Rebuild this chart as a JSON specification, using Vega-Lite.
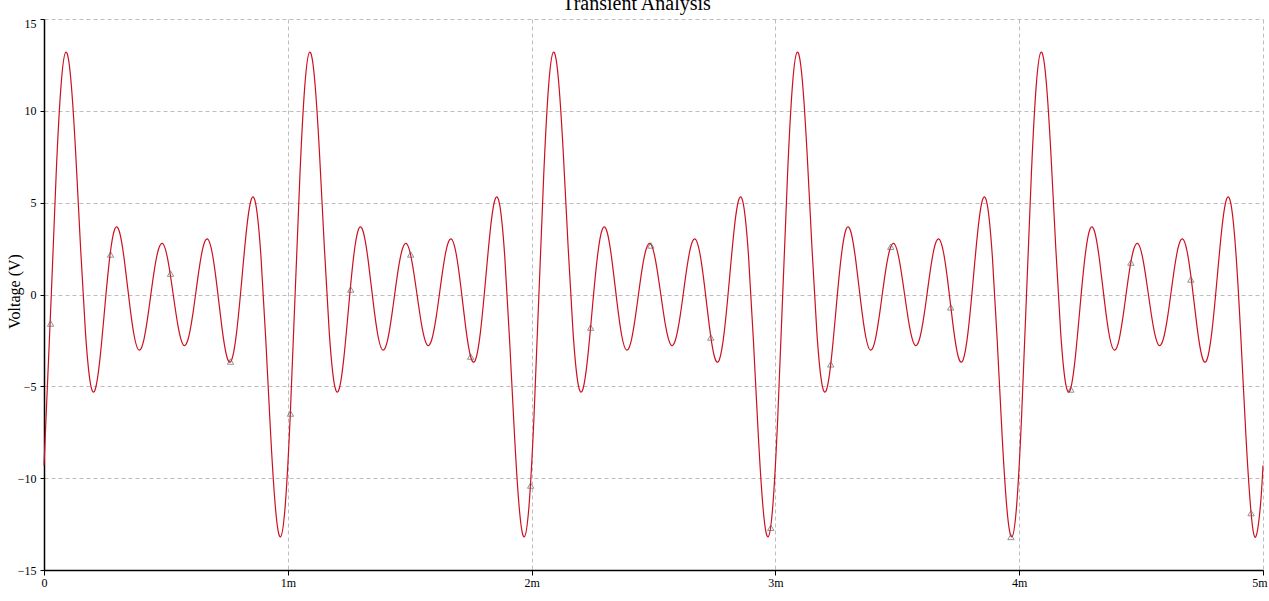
{
"$schema": "https://vega.github.io/schema/vega-lite/v6.json",
"width": 1219, "height": 551,
"autosize": {"type": "none"},
"padding": {"left": 44, "top": 19, "right": 6, "bottom": 31},
"background": "white",
"title": {"text": "Transient Analysis", "font": "Liberation Serif", "fontSize": 20, "fontWeight": "normal", "color": "black", "anchor": "middle", "baseline": "alphabetic", "offset": 9, "dy": 22, "frame": "bounds"},
"config": {
  "view": {"stroke": null},
  "axis": {"domainColor": "black", "domainWidth": 1.5, "tickColor": "black", "tickWidth": 1, "labelFont": "Liberation Serif", "labelFontSize": 12, "labelColor": "black", "titleFont": "Liberation Serif", "titleFontWeight": "normal", "titleColor": "black", "gridColor": "#bdbdbd", "gridDash": [4, 3], "gridWidth": 1}
},
"datasets": {
  "wave": [
{"t":0,"v":-9.31},
{"t":0.03,"v":0},{"t":0.05,"v":6.59},{"t":0.07,"v":11.4},{"t":0.09,"v":13.2},{"t":0.11,"v":11.72},{"t":0.13,"v":7.69},{"t":0.15,"v":2.55},{"t":0.17,"v":-2.05},{"t":0.19,"v":-4.81},{"t":0.21,"v":-5.17},{"t":0.23,"v":-3.44},{"t":0.25,"v":-0.61},{"t":0.27,"v":2.06},{"t":0.29,"v":3.55},{"t":0.31,"v":3.39},{"t":0.33,"v":1.82},{"t":0.35,"v":-0.39},{"t":0.37,"v":-2.26},{"t":0.39,"v":-3.03},{"t":0.41,"v":-2.44},{"t":0.43,"v":-0.81},{"t":0.45,"v":1.11},{"t":0.47,"v":2.48},{"t":0.49,"v":2.72},{"t":0.51,"v":1.74},{"t":0.53,"v":0},{"t":0.55,"v":-1.74},{"t":0.57,"v":-2.72},{"t":0.59,"v":-2.48},{"t":0.61,"v":-1.11},{"t":0.63,"v":0.81},{"t":0.65,"v":2.44},{"t":0.67,"v":3.03},{"t":0.69,"v":2.26},{"t":0.71,"v":0.39},{"t":0.73,"v":-1.82},{"t":0.75,"v":-3.39},{"t":0.77,"v":-3.55},{"t":0.79,"v":-2.06},{"t":0.81,"v":0.61},{"t":0.83,"v":3.44},{"t":0.85,"v":5.17},{"t":0.87,"v":4.81},{"t":0.89,"v":2.05},{"t":0.91,"v":-2.55},{"t":0.93,"v":-7.69},{"t":0.95,"v":-11.72},{"t":0.97,"v":-13.2},{"t":0.99,"v":-11.4},{"t":1.01,"v":-6.59},
{"t":1.03,"v":0},{"t":1.05,"v":6.59},{"t":1.07,"v":11.4},{"t":1.09,"v":13.2},{"t":1.11,"v":11.72},{"t":1.13,"v":7.69},{"t":1.15,"v":2.55},{"t":1.17,"v":-2.05},{"t":1.19,"v":-4.81},{"t":1.21,"v":-5.17},{"t":1.23,"v":-3.44},{"t":1.25,"v":-0.61},{"t":1.27,"v":2.06},{"t":1.29,"v":3.55},{"t":1.31,"v":3.39},{"t":1.33,"v":1.82},{"t":1.35,"v":-0.39},{"t":1.37,"v":-2.26},{"t":1.39,"v":-3.03},{"t":1.41,"v":-2.44},{"t":1.43,"v":-0.81},{"t":1.45,"v":1.11},{"t":1.47,"v":2.48},{"t":1.49,"v":2.72},{"t":1.51,"v":1.74},{"t":1.53,"v":0},{"t":1.55,"v":-1.74},{"t":1.57,"v":-2.72},{"t":1.59,"v":-2.48},{"t":1.61,"v":-1.11},{"t":1.63,"v":0.81},{"t":1.65,"v":2.44},{"t":1.67,"v":3.03},{"t":1.69,"v":2.26},{"t":1.71,"v":0.39},{"t":1.73,"v":-1.82},{"t":1.75,"v":-3.39},{"t":1.77,"v":-3.55},{"t":1.79,"v":-2.06},{"t":1.81,"v":0.61},{"t":1.83,"v":3.44},{"t":1.85,"v":5.17},{"t":1.87,"v":4.81},{"t":1.89,"v":2.05},{"t":1.91,"v":-2.55},{"t":1.93,"v":-7.69},{"t":1.95,"v":-11.72},{"t":1.97,"v":-13.2},{"t":1.99,"v":-11.4},{"t":2.01,"v":-6.59},
{"t":2.03,"v":0},{"t":2.05,"v":6.59},{"t":2.07,"v":11.4},{"t":2.09,"v":13.2},{"t":2.11,"v":11.72},{"t":2.13,"v":7.69},{"t":2.15,"v":2.55},{"t":2.17,"v":-2.05},{"t":2.19,"v":-4.81},{"t":2.21,"v":-5.17},{"t":2.23,"v":-3.44},{"t":2.25,"v":-0.61},{"t":2.27,"v":2.06},{"t":2.29,"v":3.55},{"t":2.31,"v":3.39},{"t":2.33,"v":1.82},{"t":2.35,"v":-0.39},{"t":2.37,"v":-2.26},{"t":2.39,"v":-3.03},{"t":2.41,"v":-2.44},{"t":2.43,"v":-0.81},{"t":2.45,"v":1.11},{"t":2.47,"v":2.48},{"t":2.49,"v":2.72},{"t":2.51,"v":1.74},{"t":2.53,"v":0},{"t":2.55,"v":-1.74},{"t":2.57,"v":-2.72},{"t":2.59,"v":-2.48},{"t":2.61,"v":-1.11},{"t":2.63,"v":0.81},{"t":2.65,"v":2.44},{"t":2.67,"v":3.03},{"t":2.69,"v":2.26},{"t":2.71,"v":0.39},{"t":2.73,"v":-1.82},{"t":2.75,"v":-3.39},{"t":2.77,"v":-3.55},{"t":2.79,"v":-2.06},{"t":2.81,"v":0.61},{"t":2.83,"v":3.44},{"t":2.85,"v":5.17},{"t":2.87,"v":4.81},{"t":2.89,"v":2.05},{"t":2.91,"v":-2.55},{"t":2.93,"v":-7.69},{"t":2.95,"v":-11.72},{"t":2.97,"v":-13.2},{"t":2.99,"v":-11.4},{"t":3.01,"v":-6.59},
{"t":3.03,"v":0},{"t":3.05,"v":6.59},{"t":3.07,"v":11.4},{"t":3.09,"v":13.2},{"t":3.11,"v":11.72},{"t":3.13,"v":7.69},{"t":3.15,"v":2.55},{"t":3.17,"v":-2.05},{"t":3.19,"v":-4.81},{"t":3.21,"v":-5.17},{"t":3.23,"v":-3.44},{"t":3.25,"v":-0.61},{"t":3.27,"v":2.06},{"t":3.29,"v":3.55},{"t":3.31,"v":3.39},{"t":3.33,"v":1.82},{"t":3.35,"v":-0.39},{"t":3.37,"v":-2.26},{"t":3.39,"v":-3.03},{"t":3.41,"v":-2.44},{"t":3.43,"v":-0.81},{"t":3.45,"v":1.11},{"t":3.47,"v":2.48},{"t":3.49,"v":2.72},{"t":3.51,"v":1.74},{"t":3.53,"v":0},{"t":3.55,"v":-1.74},{"t":3.57,"v":-2.72},{"t":3.59,"v":-2.48},{"t":3.61,"v":-1.11},{"t":3.63,"v":0.81},{"t":3.65,"v":2.44},{"t":3.67,"v":3.03},{"t":3.69,"v":2.26},{"t":3.71,"v":0.39},{"t":3.73,"v":-1.82},{"t":3.75,"v":-3.39},{"t":3.77,"v":-3.55},{"t":3.79,"v":-2.06},{"t":3.81,"v":0.61},{"t":3.83,"v":3.44},{"t":3.85,"v":5.17},{"t":3.87,"v":4.81},{"t":3.89,"v":2.05},{"t":3.91,"v":-2.55},{"t":3.93,"v":-7.69},{"t":3.95,"v":-11.72},{"t":3.97,"v":-13.2},{"t":3.99,"v":-11.4},{"t":4.01,"v":-6.59},
{"t":4.03,"v":0},{"t":4.05,"v":6.59},{"t":4.07,"v":11.4},{"t":4.09,"v":13.2},{"t":4.11,"v":11.72},{"t":4.13,"v":7.69},{"t":4.15,"v":2.55},{"t":4.17,"v":-2.05},{"t":4.19,"v":-4.81},{"t":4.21,"v":-5.17},{"t":4.23,"v":-3.44},{"t":4.25,"v":-0.61},{"t":4.27,"v":2.06},{"t":4.29,"v":3.55},{"t":4.31,"v":3.39},{"t":4.33,"v":1.82},{"t":4.35,"v":-0.39},{"t":4.37,"v":-2.26},{"t":4.39,"v":-3.03},{"t":4.41,"v":-2.44},{"t":4.43,"v":-0.81},{"t":4.45,"v":1.11},{"t":4.47,"v":2.48},{"t":4.49,"v":2.72},{"t":4.51,"v":1.74},{"t":4.53,"v":0},{"t":4.55,"v":-1.74},{"t":4.57,"v":-2.72},{"t":4.59,"v":-2.48},{"t":4.61,"v":-1.11},{"t":4.63,"v":0.81},{"t":4.65,"v":2.44},{"t":4.67,"v":3.03},{"t":4.69,"v":2.26},{"t":4.71,"v":0.39},{"t":4.73,"v":-1.82},{"t":4.75,"v":-3.39},{"t":4.77,"v":-3.55},{"t":4.79,"v":-2.06},{"t":4.81,"v":0.61},{"t":4.83,"v":3.44},{"t":4.85,"v":5.17},{"t":4.87,"v":4.81},{"t":4.89,"v":2.05},{"t":4.91,"v":-2.55},{"t":4.93,"v":-7.69},{"t":4.95,"v":-11.72},{"t":4.97,"v":-13.2},{"t":4.99,"v":-11.4},
{"t":5,"v":-9.31}
  ],
  "markers": [
{"t":0.027,"v":-1.58},{"t":0.273,"v":2.18},{"t":0.519,"v":1.14},{"t":0.765,"v":-3.65},{"t":1.011,"v":-6.48},{"t":1.258,"v":0.27},{"t":1.504,"v":2.18},{"t":1.75,"v":-3.38},{"t":1.996,"v":-10.4},{"t":2.242,"v":-1.8},{"t":2.489,"v":2.67},{"t":2.735,"v":-2.34},{"t":2.981,"v":-12.7},{"t":3.227,"v":-3.8},{"t":3.473,"v":2.6},{"t":3.719,"v":-0.7},{"t":3.966,"v":-13.2},{"t":4.212,"v":-5.17},{"t":4.458,"v":1.74},{"t":4.704,"v":0.82},{"t":4.951,"v":-11.9}
  ]
},
"encoding": {
  "x": {"field": "t", "type": "quantitative", "scale": {"domain": [0, 5], "nice": false, "zero": false},
        "axis": {"title": null, "values": [0, 1, 2, 3, 4, 5], "labelExpr": "datum.value == 0 ? '0' : datum.value + 'm'", "tickSize": 5, "labelPadding": 2, "labelFlush": false,
                 "labelAlign": {"condition": {"test": "datum.value == 5", "value": "right"}, "value": "center"},
                 "labelOffset": {"condition": {"test": "datum.value == 5", "value": 4}, "value": 0}}},
  "y": {"field": "v", "type": "quantitative", "scale": {"domain": [-15, 15], "nice": false, "zero": false},
        "axis": {"title": "Voltage (V)", "values": [-15, -10, -5, 0, 5, 10, 15], "tickSize": 4, "labelPadding": 4, "labelFlush": false, "labelBaseline": "middle",
                 "labelOffset": {"condition": {"test": "datum.value == 15", "value": 4}, "value": 0},
                 "titleFontSize": 16, "titleX": -25, "titleY": 272, "titleAngle": 270, "titleAlign": "center", "titleBaseline": "alphabetic"}}
},
"layer": [
  {"data": {"name": "wave"}, "mark": {"type": "line", "interpolate": "natural", "color": "#cc1020", "strokeWidth": 1.2}},
  {"data": {"name": "markers"}, "mark": {"type": "point", "shape": "triangle-up", "filled": false, "size": 40, "color": "#666666", "strokeWidth": 1}}
]
}
